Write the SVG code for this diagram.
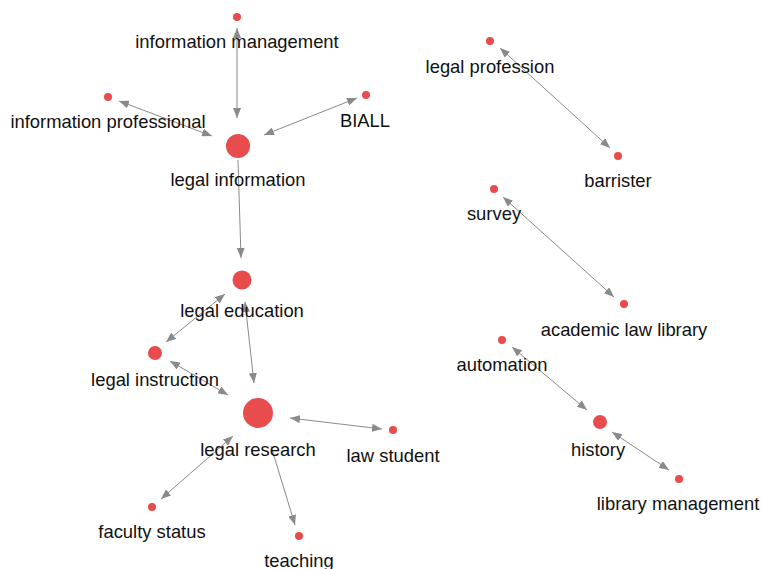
<svg xmlns="http://www.w3.org/2000/svg" width="761" height="569" viewBox="0 0 761 569">
<style>
.n{fill:#e84c4c}
.t{font-family:"Liberation Sans",Arial,sans-serif;font-size:18.4px;fill:#111;text-anchor:middle}
.e{stroke:#8a8a8a;stroke-width:1;fill:none}
.b{marker-start:url(#a);marker-end:url(#a)}
.s{marker-end:url(#a)}
</style>
<defs>
<marker id="a" viewBox="0 0 10 8" refX="10" refY="4" markerWidth="10" markerHeight="8" markerUnits="userSpaceOnUse" orient="auto-start-reverse">
<path d="M0,0 L10,4 L0,8 z" fill="#8a8a8a"/>
</marker>
</defs>
<rect width="761" height="569" fill="#fff"/>
<g id="edges">
<line class="e b" x1="237" y1="28" x2="237" y2="118"/>
<line class="e b" x1="119" y1="101" x2="212" y2="136"/>
<line class="e b" x1="357" y1="98" x2="264" y2="135"/>
<line class="e s" x1="238" y1="160" x2="241" y2="258"/>
<line class="e b" x1="225" y1="294" x2="166" y2="342"/>
<line class="e b" x1="245" y1="302" x2="254" y2="383"/>
<line class="e b" x1="170" y1="361" x2="228" y2="395"/>
<line class="e b" x1="290" y1="418" x2="382" y2="429"/>
<line class="e b" x1="233" y1="436" x2="161" y2="499"/>
<line class="e s" x1="271" y1="446" x2="295" y2="525"/>
<line class="e b" x1="500" y1="48" x2="610" y2="148"/>
<line class="e b" x1="503" y1="197" x2="614" y2="297"/>
<line class="e b" x1="512" y1="347" x2="587" y2="410"/>
<line class="e b" x1="612" y1="432" x2="669" y2="470"/>
</g>
<g id="information-management"><circle class="n" cx="237" cy="17" r="4"/><text class="t" x="237" y="48">information management</text></g>
<g id="information-professional"><circle class="n" cx="108" cy="97" r="4"/><text class="t" x="108" y="128">information professional</text></g>
<g id="biall"><circle class="n" cx="366" cy="95" r="4"/><text class="t" x="365" y="127">BIALL</text></g>
<g id="legal-information"><circle class="n" cx="238" cy="146" r="12"/><text class="t" x="238" y="186">legal information</text></g>
<g id="legal-education"><circle class="n" cx="242" cy="280" r="9.5"/><text class="t" x="242" y="317">legal education</text></g>
<g id="legal-instruction"><circle class="n" cx="155" cy="353" r="7"/><text class="t" x="155" y="386">legal instruction</text></g>
<g id="legal-research"><circle class="n" cx="258" cy="413" r="15"/><text class="t" x="258" y="456">legal research</text></g>
<g id="law-student"><circle class="n" cx="393" cy="430" r="4"/><text class="t" x="393" y="462">law student</text></g>
<g id="faculty-status"><circle class="n" cx="152" cy="507" r="4"/><text class="t" x="152" y="538">faculty status</text></g>
<g id="teaching"><circle class="n" cx="299" cy="536" r="4"/><text class="t" x="299" y="567">teaching</text></g>
<g id="legal-profession"><circle class="n" cx="490" cy="41" r="4"/><text class="t" x="490" y="73">legal profession</text></g>
<g id="barrister"><circle class="n" cx="618" cy="156" r="4"/><text class="t" x="618" y="187">barrister</text></g>
<g id="survey"><circle class="n" cx="494" cy="189" r="4"/><text class="t" x="494" y="220">survey</text></g>
<g id="academic-law-library"><circle class="n" cx="624" cy="304" r="4"/><text class="t" x="624" y="336">academic law library</text></g>
<g id="automation"><circle class="n" cx="502" cy="340" r="4"/><text class="t" x="502" y="371">automation</text></g>
<g id="history"><circle class="n" cx="600" cy="422" r="7"/><text class="t" x="598" y="456">history</text></g>
<g id="library-management"><circle class="n" cx="679" cy="479" r="4"/><text class="t" x="678" y="510">library management</text></g>
</svg>
